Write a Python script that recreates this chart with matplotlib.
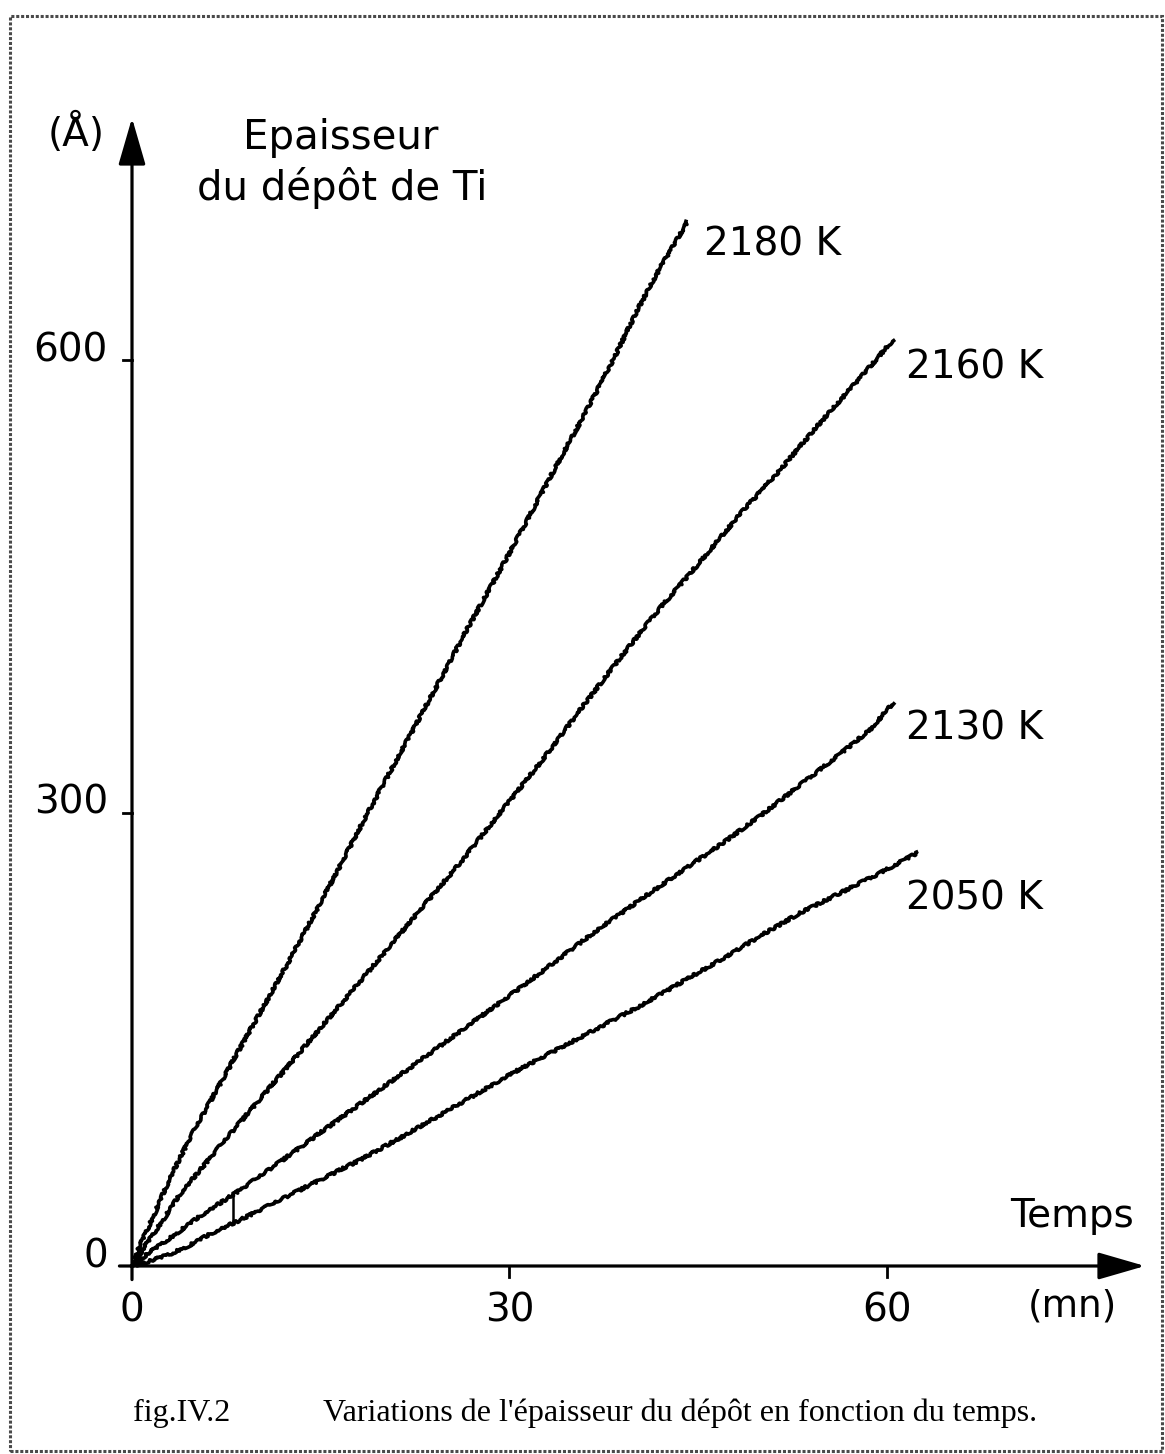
import matplotlib
matplotlib.use("Agg")
import matplotlib.pyplot as plt
from matplotlib.patches import Rectangle

W, H = 1165, 1454

# epaisseur du depot (Angstrom) en fonction du temps (mn), pour chaque temperature
temperatures = ["2180 K", "2160 K", "2130 K", "2050 K"]

t_2180 = [0, 0.64, 1.67, 3.02, 4.61, 6.60, 8.59, 10.57, 12.56, 14.55, 16.53, 18.52, 20.51,
          22.50, 24.48, 26.47, 28.46, 30.44, 32.43, 34.42, 36.41, 38.39, 40.38, 41.97,
          43.16, 44.12]
e_2180 = [0, 13.9, 32.5, 58.3, 84.8, 114.6, 144.4, 173.5, 203.3, 233.8, 264.9, 296.7, 327.2,
          357.6, 388.1, 419.2, 449.0, 478.8, 509.9, 540.4, 570.9, 602.6, 636.4, 660.9,
          677.5, 691.4]

t_2160 = [0, 1.03, 2.46, 3.82, 7.00, 10.17, 13.35, 16.53, 19.71, 22.89, 26.07, 29.25, 32.43,
          35.61, 38.79, 41.97, 45.15, 48.33, 51.51, 54.69, 57.87, 60.49]
e_2160 = [0, 13.2, 30.5, 47.7, 79.5, 110.6, 141.7, 172.8, 204.0, 235.8, 266.9, 300.0, 333.1,
          368.2, 402.6, 435.8, 466.2, 498.0, 527.2, 558.3, 588.1, 613.2]

t_2130 = [0, 1.43, 3.02, 5.41, 8.59, 11.76, 14.94, 18.12, 21.30, 24.48, 27.66, 30.84, 34.02,
          37.20, 40.38, 43.56, 46.74, 49.92, 53.10, 56.28, 58.66, 60.49]
e_2130 = [0, 9.3, 18.5, 33.1, 50.3, 68.9, 88.1, 107.3, 126.5, 145.7, 164.9, 184.1, 204.0,
          223.8, 242.4, 260.9, 278.8, 298.0, 318.5, 339.1, 355.0, 372.8]

t_2050 = [0, 1.43, 3.02, 4.61, 6.20, 8.59, 11.76, 14.94, 18.12, 21.30, 24.48, 27.66, 30.84,
          34.02, 37.20, 40.38, 43.56, 46.74, 49.92, 53.10, 56.28, 59.46, 62.40]
e_2050 = [0, 3.3, 7.9, 13.9, 21.2, 30.5, 43.7, 57.0, 70.2, 84.8, 100.0, 115.2, 130.5,
          144.4, 158.3, 172.2, 187.4, 202.6, 218.5, 233.8, 247.0, 260.3, 273.5]

# petit trait vertical reliant les courbes 2130 K et 2050 K
liaison_t = [8.03, 8.03]
liaison_e = [48, 30]

x_ticks = [0, 30, 60]
y_ticks = [0, 300, 600]

series = [(t_2180, e_2180), (t_2160, e_2160), (t_2130, e_2130), (t_2050, e_2050)]
# decalage des etiquettes (pixels) par rapport au dernier point
label_offsets = [(17, -23), (13, -27), (13, -25), (-11, -45)]

plt.rcParams['font.family'] = ['DejaVu Sans']

fig = plt.figure(figsize=(W / 100, H / 100), dpi=100)
fig.patch.set_facecolor('white')

# cadre de la page
fig.add_artist(Rectangle((10 / W, 1 - 1451 / H), (1162 - 10) / W, (1451 - 16) / H,
                         transform=fig.transFigure, fill=False,
                         edgecolor='#4a4a4a', lw=2.2, linestyle=(0, (1, 0.6))))

x0, y0 = 132, 1266
x1, y1 = 1145, 118
ax = fig.add_axes([x0 / W, 1 - y0 / H, (x1 - x0) / W, (y0 - y1) / H])
xmax = (x1 - x0) / 12.58
ymax = (y0 - y1) / 1.51
ax.set_xlim(0, xmax)
ax.set_ylim(0, ymax)
ax.axis('off')

arrow = dict(arrowstyle='-|>,head_length=1.45,head_width=0.42', mutation_scale=20,
             color='black', lw=2.3, shrinkA=0, shrinkB=0)
ax.annotate('', xy=(0, ymax), xytext=(0, -9), arrowprops=arrow, annotation_clip=False)
ax.annotate('', xy=(xmax, 0), xytext=(-1, 0), arrowprops=arrow, annotation_clip=False)

for v in x_ticks[1:]:
    ax.plot([v, v], [0, -7], color='black', lw=2, clip_on=False)
for v in y_ticks[1:]:
    ax.plot([0, -0.7], [v, v], color='black', lw=2, clip_on=False)

for v in x_ticks:
    ax.annotate(str(v), xy=(v, 0), xytext=(0, -44), textcoords='offset pixels',
                ha='center', va='center', fontsize=28, annotation_clip=False)
for v in y_ticks:
    ax.annotate(str(v), xy=(0, v), xytext=(-24, 10), textcoords='offset pixels',
                ha='right', va='center', fontsize=28, annotation_clip=False)

# traces d'enregistreur : trait un peu tremble
for (t, e), name, off in zip(series, temperatures, label_offsets):
    line, = ax.plot(t, e, color='black', lw=2.6, solid_joinstyle='round', clip_on=False)
    line.set_sketch_params(scale=1.3, length=7, randomness=18)
    ax.annotate(name, xy=(t[-1], e[-1]), xytext=off, textcoords='offset pixels',
                ha='left', va='center', fontsize=28, annotation_clip=False)

ax.plot(liaison_t, liaison_e, color='black', lw=1.8)

fig.text(48 / W, 1 - 133 / H, '(Å)', fontsize=28, ha='left', va='center')
fig.text(341 / W, 1 - 138 / H, 'Epaisseur', fontsize=29, ha='center', va='center')
fig.text(342 / W, 1 - 188 / H, 'du dépôt de Ti', fontsize=29, ha='center', va='center')
fig.text(1072 / W, 1 - 1216 / H, 'Temps', fontsize=28, ha='center', va='center')
fig.text(1072 / W, 1 - 1307 / H, '(mn)', fontsize=27, ha='center', va='center')

fig.text(133 / W, 1 - 1421 / H, 'fig.IV.2', family='Liberation Serif', fontsize=23,
         ha='left', va='baseline')
fig.text(323 / W, 1 - 1421 / H, "Variations de l'épaisseur du dépôt en fonction du temps.",
         family='Liberation Serif', fontsize=23, ha='left', va='baseline')

fig.savefig('out.png', dpi=100, facecolor='white')
